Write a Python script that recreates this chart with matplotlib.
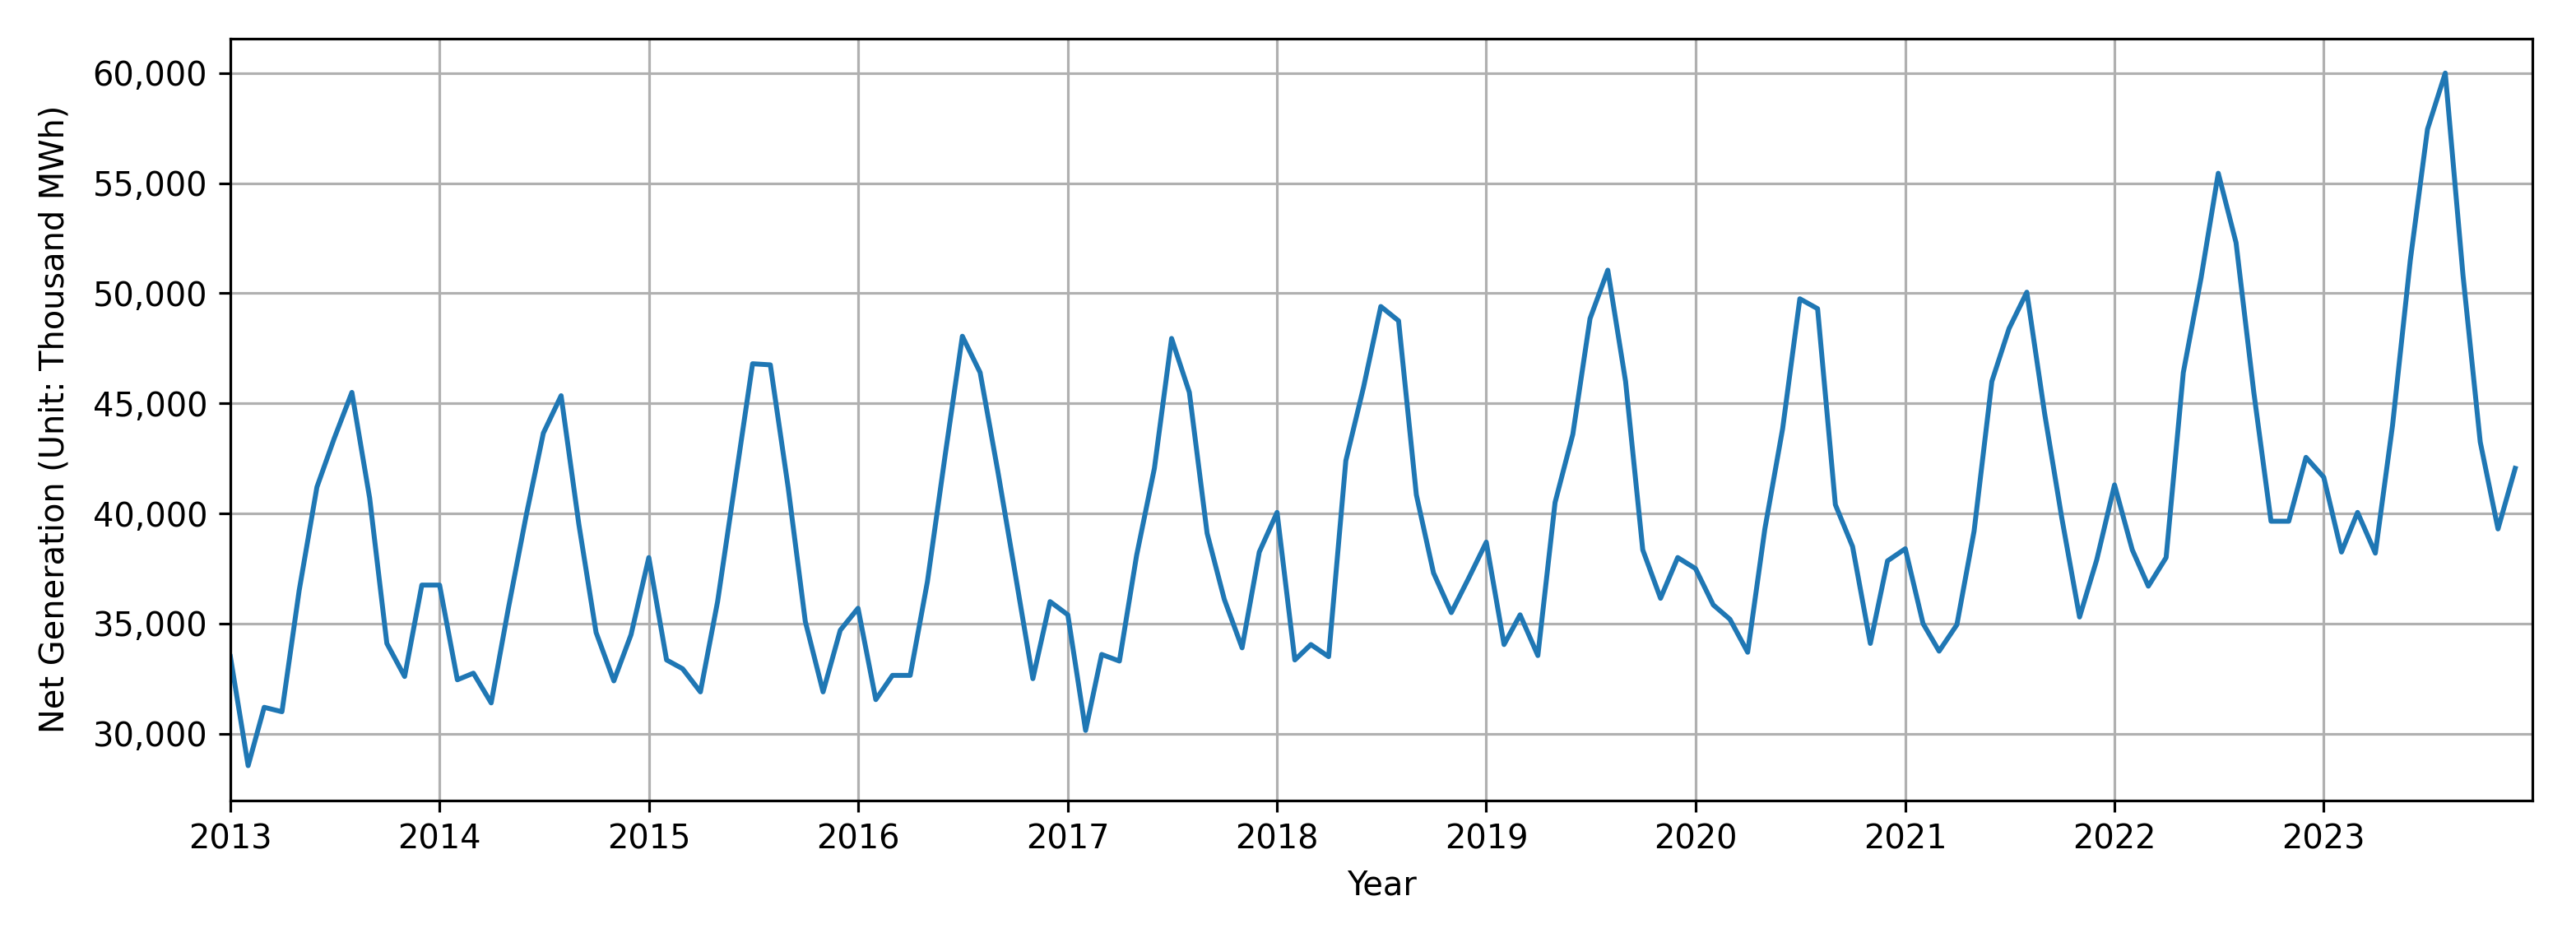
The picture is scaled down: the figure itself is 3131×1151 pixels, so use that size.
import datetime as dt
import matplotlib
matplotlib.use("Agg")
import matplotlib.pyplot as plt
import matplotlib.dates as mdates
from matplotlib.ticker import StrMethodFormatter

years = list(range(2013, 2024))

gen_2013 = [33500, 28550, 31200, 31000, 36500, 41200, 43400, 45500, 40700, 34100, 32600, 36750]
gen_2014 = [36750, 32450, 32750, 31400, 35700, 39900, 43650, 45350, 39500, 34600, 32400, 34500]
gen_2015 = [38000, 33350, 32950, 31900, 36000, 41500, 46800, 46750, 41200, 35100, 31900, 34700]
gen_2016 = [35700, 31550, 32650, 32650, 36900, 42650, 48050, 46400, 41900, 37300, 32500, 36000]
gen_2017 = [35400, 30150, 33600, 33300, 38100, 42050, 47950, 45500, 39100, 36100, 33900, 38250]
gen_2018 = [40050, 33350, 34050, 33500, 42400, 45750, 49400, 48750, 40850, 37300, 35500, 37050]
gen_2019 = [38700, 34050, 35400, 33550, 40500, 43600, 48850, 51050, 46000, 38350, 36150, 38000]
gen_2020 = [37500, 35850, 35200, 33700, 39300, 43850, 49750, 49300, 40400, 38500, 34100, 37850]
gen_2021 = [38400, 35000, 33750, 34950, 39200, 46000, 48400, 50050, 44550, 39800, 35300, 37900]
gen_2022 = [41300, 38350, 36700, 38000, 46400, 50700, 55450, 52300, 45500, 39650, 39650, 42550]
gen_2023 = [41650, 38250, 40050, 38200, 44000, 51500, 57450, 60000, 50800, 43250, 39300, 42050]

yearly = [gen_2013, gen_2014, gen_2015, gen_2016, gen_2017, gen_2018,
          gen_2019, gen_2020, gen_2021, gen_2022, gen_2023]

dates = []
values = []
for y, vals in zip(years, yearly):
    for m, v in enumerate(vals, start=1):
        dates.append(dt.datetime(y, m, 1))
        values.append(v)

W, H = 3131, 1151
DPI = 287
fig = plt.figure(figsize=(W / DPI, H / DPI), dpi=DPI)
ax = fig.add_axes([280 / W, 1 - 972.7 / H, (3078 - 280) / W, (972.7 - 46.7) / H])

ax.plot(dates, values, color="#1f77b4", linewidth=1.5)
ax.set_xlim(dt.datetime(2013, 1, 1), dt.datetime(2023, 12, 31))
ax.xaxis.set_major_locator(mdates.YearLocator())
ax.xaxis.set_major_formatter(mdates.DateFormatter("%Y"))
ax.yaxis.set_major_formatter(StrMethodFormatter("{x:,.0f}"))
ax.set_xlabel("Year", fontsize=10)
ax.set_ylabel("Net Generation (Unit: Thousand MWh)", fontsize=10, labelpad=6.5)
ax.tick_params(labelsize=10)
ax.grid(True)

fig.savefig("out.png", dpi=DPI)
